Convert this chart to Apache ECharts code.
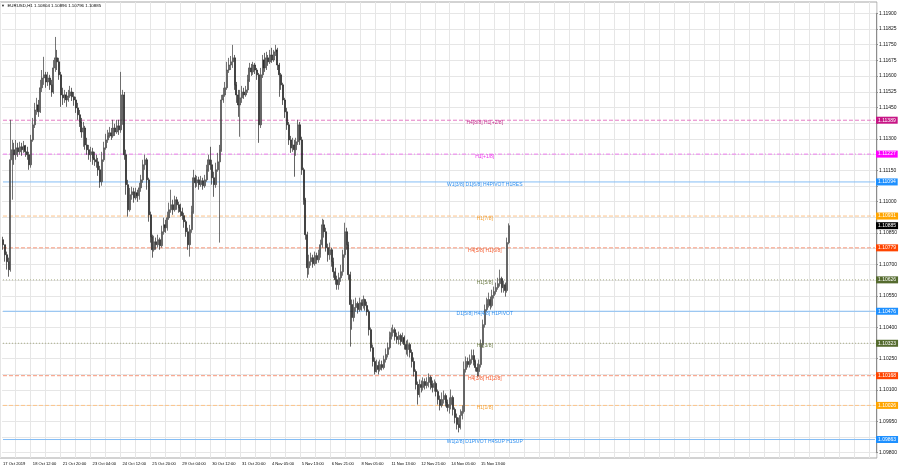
<!DOCTYPE html>
<html><head><meta charset="utf-8">
<script src="https://cdn.jsdelivr.net/npm/echarts@6/dist/echarts.min.js"></script>
<style>html,body{margin:0;padding:0;background:#fff}#c{width:900px;height:470px}</style>
</head><body><div id="c"></div>
<script>
const symbolName = 'EURUSD,H1';
const tickLabels = ['17 Oct 2019','18 Oct 12:00','21 Oct 20:00','23 Oct 04:00','24 Oct 12:00','25 Oct 20:00','29 Oct 04:00','30 Oct 12:00','31 Oct 20:00','4 Nov 05:00','5 Nov 13:00','6 Nov 21:00','8 Nov 05:00','11 Nov 13:00','12 Nov 21:00','14 Nov 05:00','15 Nov 13:00'];
// [open, close, low, high]
const ohlc = [
[1.10818,1.10794,1.10770,1.10832],[1.10794,1.10746,1.10713,1.10794],[1.10746,1.10713,1.10675,1.10761],[1.10713,1.10675,1.10641,1.10732],
[1.10675,1.11200,1.10665,1.11391],[1.11200,1.11248,1.11009,1.11295],[1.11248,1.11224,1.11176,1.11281],[1.11224,1.11257,1.11200,1.11295],
[1.11257,1.11238,1.11214,1.11281],[1.11238,1.11262,1.11224,1.11286],[1.11262,1.11248,1.11219,1.11281],[1.11248,1.11267,1.11233,1.11290],
[1.11267,1.11238,1.11214,1.11271],[1.11238,1.11224,1.11200,1.11262],[1.11224,1.11176,1.11152,1.11238],[1.11176,1.11295,1.11162,1.11319],
[1.11295,1.11367,1.11286,1.11400],[1.11367,1.11438,1.11352,1.11472],[1.11438,1.11462,1.11415,1.11496],[1.11462,1.11429,1.11405,1.11486],
[1.11429,1.11544,1.11424,1.11582],[1.11544,1.11591,1.11524,1.11629],[1.11591,1.11606,1.11558,1.11692],[1.11606,1.11572,1.11544,1.11620],
[1.11572,1.11591,1.11553,1.11620],[1.11591,1.11558,1.11534,1.11606],[1.11558,1.11524,1.11501,1.11582],[1.11524,1.11639,1.11515,1.11677],
[1.11639,1.11687,1.11620,1.11787],[1.11687,1.11668,1.11629,1.11725],[1.11668,1.11606,1.11582,1.11687],[1.11606,1.11510,1.11453,1.11620],
[1.11510,1.11496,1.11462,1.11544],[1.11496,1.11510,1.11472,1.11534],[1.11510,1.11486,1.11453,1.11524],[1.11486,1.11505,1.11477,1.11534],
[1.11505,1.11524,1.11496,1.11553],[1.11524,1.11501,1.11481,1.11544],[1.11501,1.11486,1.11458,1.11524],[1.11486,1.11448,1.11424,1.11501],
[1.11448,1.11415,1.11391,1.11472],[1.11415,1.11381,1.11357,1.11438],[1.11381,1.11333,1.11305,1.11400],[1.11333,1.11352,1.11262,1.11381],
[1.11352,1.11271,1.11248,1.11362],[1.11271,1.11248,1.11224,1.11305],[1.11248,1.11224,1.11200,1.11271],[1.11224,1.11238,1.11190,1.11262],
[1.11238,1.11209,1.11176,1.11257],[1.11209,1.11200,1.11171,1.11238],[1.11200,1.11190,1.11162,1.11224],[1.11190,1.11152,1.11123,1.11209],
[1.11152,1.11095,1.11066,1.11171],[1.11095,1.11200,1.11076,1.11238],[1.11200,1.11257,1.11190,1.11286],[1.11257,1.11295,1.11248,1.11324],
[1.11295,1.11314,1.11281,1.11343],[1.11314,1.11329,1.11305,1.11357],[1.11329,1.11314,1.11295,1.11352],[1.11314,1.11352,1.11305,1.11391],
[1.11352,1.11333,1.11314,1.11372],[1.11333,1.11362,1.11324,1.11391],[1.11362,1.11343,1.11319,1.11391],[1.11343,1.11391,1.11329,1.11620],
[1.11391,1.11510,1.11367,1.11534],[1.11510,1.11224,1.11200,1.11524],[1.11224,1.11081,1.11033,1.11248],[1.11081,1.10961,1.10928,1.11104],
[1.10961,1.11033,1.10952,1.11066],[1.11033,1.11047,1.11009,1.11071],[1.11047,1.11018,1.10995,1.11066],[1.11018,1.11042,1.11009,1.11066],
[1.11042,1.11028,1.10999,1.11057],[1.11028,1.11066,1.11009,1.11090],[1.11066,1.11104,1.11047,1.11128],[1.11104,1.11176,1.11090,1.11200],
[1.11176,1.11200,1.11152,1.11224],[1.11200,1.11104,1.11057,1.11209],[1.11104,1.10937,1.10904,1.11114],[1.10937,1.10832,1.10804,1.10952],
[1.10832,1.10770,1.10732,1.10842],[1.10770,1.10808,1.10761,1.10837],[1.10808,1.10794,1.10770,1.10828],[1.10794,1.10818,1.10780,1.10842],
[1.10818,1.10789,1.10770,1.10828],[1.10789,1.10856,1.10780,1.10885],[1.10856,1.10889,1.10842,1.10923],[1.10889,1.10875,1.10851,1.10913],
[1.10875,1.10923,1.10861,1.10952],[1.10923,1.10961,1.10913,1.10995],[1.10961,1.10985,1.10947,1.11057],[1.10985,1.10961,1.10937,1.11009],
[1.10961,1.11009,1.10952,1.11028],[1.11009,1.10985,1.10961,1.11023],[1.10985,1.10971,1.10947,1.10999],[1.10971,1.10952,1.10928,1.10990],
[1.10952,1.10933,1.10913,1.10971],[1.10933,1.10904,1.10875,1.10947],[1.10904,1.10856,1.10832,1.10913],[1.10856,1.10794,1.10770,1.10875],
[1.10794,1.10866,1.10737,1.10889],[1.10866,1.10952,1.10851,1.10980],[1.10952,1.11114,1.10942,1.11152],[1.11114,1.11090,1.11066,1.11128],
[1.11090,1.11104,1.11071,1.11123],[1.11104,1.11081,1.11057,1.11119],[1.11081,1.11100,1.11071,1.11123],[1.11100,1.11076,1.11057,1.11114],
[1.11076,1.11104,1.11066,1.11128],[1.11104,1.11152,1.11095,1.11176],[1.11152,1.11200,1.11143,1.11224],[1.11200,1.11176,1.11152,1.11262],
[1.11176,1.11114,1.11081,1.11200],[1.11114,1.11081,1.11023,1.11143],[1.11081,1.11152,1.11066,1.11186],[1.11152,1.11190,1.11143,1.11233],
[1.11190,1.11248,1.10804,1.11271],[1.11248,1.11486,1.11238,1.11510],[1.11486,1.11510,1.11472,1.11544],[1.11510,1.11544,1.11501,1.11572],
[1.11544,1.11629,1.11534,1.11668],[1.11629,1.11653,1.11615,1.11687],[1.11653,1.11668,1.11629,1.11696],[1.11668,1.11687,1.11639,1.11749],
[1.11687,1.11558,1.11534,1.11701],[1.11558,1.11510,1.11472,1.11572],[1.11510,1.11462,1.11405,1.11534],[1.11462,1.11496,1.11310,1.11534],
[1.11496,1.11524,1.11472,1.11553],[1.11524,1.11510,1.11491,1.11544],[1.11510,1.11534,1.11501,1.11553],[1.11534,1.11582,1.11520,1.11606],
[1.11582,1.11639,1.11572,1.11663],[1.11639,1.11620,1.11601,1.11658],[1.11620,1.11653,1.11606,1.11668],[1.11653,1.11629,1.11610,1.11663],
[1.11629,1.11606,1.11582,1.11639],[1.11606,1.11367,1.11281,1.11615],[1.11367,1.11606,1.11352,1.11639],[1.11606,1.11677,1.11591,1.11701],
[1.11677,1.11639,1.11620,1.11711],[1.11639,1.11687,1.11629,1.11716],[1.11687,1.11668,1.11649,1.11701],[1.11668,1.11701,1.11658,1.11725],
[1.11701,1.11677,1.11663,1.11735],[1.11677,1.11716,1.11668,1.11725],[1.11716,1.11725,1.11696,1.11749],[1.11725,1.11653,1.11629,1.11735],
[1.11653,1.11606,1.11501,1.11663],[1.11606,1.11558,1.11534,1.11615],[1.11558,1.11486,1.11462,1.11568],[1.11486,1.11429,1.11400,1.11496],
[1.11429,1.11367,1.11343,1.11448],[1.11367,1.11295,1.11271,1.11381],[1.11295,1.11257,1.11233,1.11314],[1.11257,1.11271,1.11238,1.11305],
[1.11271,1.11248,1.11119,1.11295],[1.11248,1.11286,1.11219,1.11305],[1.11286,1.11367,1.11271,1.11391],[1.11367,1.11295,1.11271,1.11381],
[1.11295,1.11152,1.11128,1.11310],[1.11152,1.11009,1.10985,1.11162],[1.11009,1.10842,1.10818,1.11018],[1.10842,1.10684,1.10636,1.10856],
[1.10684,1.10713,1.10651,1.10746],[1.10713,1.10732,1.10694,1.10756],[1.10732,1.10703,1.10684,1.10746],[1.10703,1.10742,1.10694,1.10761],
[1.10742,1.10722,1.10703,1.10756],[1.10722,1.10751,1.10708,1.10770],[1.10751,1.10794,1.10732,1.10818],[1.10794,1.10889,1.10780,1.10918],
[1.10889,1.10856,1.10828,1.10913],[1.10856,1.10780,1.10761,1.10875],[1.10780,1.10746,1.10713,1.10799],[1.10746,1.10770,1.10722,1.10804],
[1.10770,1.10713,1.10689,1.10780],[1.10713,1.10665,1.10636,1.10732],[1.10665,1.10627,1.10603,1.10684],[1.10627,1.10603,1.10579,1.10646],
[1.10603,1.10636,1.10579,1.10660],[1.10636,1.10665,1.10617,1.10698],[1.10665,1.10746,1.10646,1.10770],[1.10746,1.10856,1.10732,1.10899],
[1.10856,1.10794,1.10770,1.10875],[1.10794,1.10651,1.10627,1.10808],[1.10651,1.10508,1.10307,1.10665],[1.10508,1.10446,1.10388,1.10532],
[1.10446,1.10494,1.10427,1.10532],[1.10494,1.10513,1.10474,1.10541],[1.10513,1.10484,1.10465,1.10522],[1.10484,1.10517,1.10474,1.10541],
[1.10517,1.10503,1.10479,1.10532],[1.10503,1.10532,1.10489,1.10551],[1.10532,1.10503,1.10479,1.10536],[1.10503,1.10474,1.10455,1.10522],
[1.10474,1.10388,1.10360,1.10484],[1.10388,1.10302,1.10283,1.10398],[1.10302,1.10236,1.10212,1.10317],[1.10236,1.10188,1.10174,1.10255],
[1.10188,1.10217,1.10183,1.10245],[1.10217,1.10198,1.10174,1.10236],[1.10198,1.10221,1.10188,1.10245],[1.10221,1.10207,1.10193,1.10240],
[1.10207,1.10245,1.10198,1.10264],[1.10245,1.10269,1.10231,1.10298],[1.10269,1.10302,1.10255,1.10326],[1.10302,1.10350,1.10293,1.10379],
[1.10350,1.10374,1.10341,1.10398],[1.10374,1.10388,1.10355,1.10412],[1.10388,1.10355,1.10336,1.10398],[1.10355,1.10341,1.10322,1.10374],
[1.10341,1.10360,1.10317,1.10379],[1.10360,1.10331,1.10312,1.10369],[1.10331,1.10350,1.10322,1.10374],[1.10350,1.10317,1.10293,1.10360],
[1.10317,1.10293,1.10269,1.10336],[1.10293,1.10317,1.10260,1.10341],[1.10317,1.10279,1.10255,1.10326],[1.10279,1.10236,1.10207,1.10293],
[1.10236,1.10188,1.10164,1.10255],[1.10188,1.10126,1.10102,1.10198],[1.10126,1.10078,1.10030,1.10140],[1.10078,1.10126,1.10064,1.10150],
[1.10126,1.10112,1.10088,1.10145],[1.10112,1.10140,1.10097,1.10160],[1.10140,1.10121,1.10102,1.10155],[1.10121,1.10136,1.10107,1.10160],
[1.10136,1.10160,1.10112,1.10179],[1.10160,1.10126,1.10102,1.10169],[1.10126,1.10112,1.10088,1.10145],[1.10112,1.10131,1.10092,1.10150],
[1.10131,1.10092,1.10069,1.10140],[1.10092,1.10054,1.10030,1.10102],[1.10054,1.10026,1.10002,1.10073],[1.10026,1.10054,1.10016,1.10088],
[1.10054,1.10073,1.10035,1.10097],[1.10073,1.10040,1.10021,1.10083],[1.10040,1.10016,1.09997,1.10054],[1.10016,1.10030,1.09987,1.10064],
[1.10030,1.10064,1.10007,1.10102],[1.10064,1.10007,1.09978,1.10073],[1.10007,1.09968,1.09940,1.10016],[1.09968,1.09935,1.09911,1.09987],
[1.09935,1.09921,1.09897,1.09968],[1.09921,1.09978,1.09911,1.10007],[1.09978,1.09997,1.09959,1.10026],[1.09997,1.10198,1.09987,1.10236],
[1.10198,1.10236,1.10183,1.10260],[1.10236,1.10221,1.10207,1.10255],[1.10221,1.10245,1.10207,1.10269],[1.10245,1.10264,1.10226,1.10293],
[1.10264,1.10236,1.10217,1.10293],[1.10236,1.10207,1.10188,1.10245],[1.10207,1.10188,1.10164,1.10226],[1.10188,1.10221,1.10164,1.10245],
[1.10221,1.10317,1.10207,1.10341],[1.10317,1.10412,1.10302,1.10436],[1.10412,1.10484,1.10398,1.10508],[1.10484,1.10508,1.10474,1.10541],
[1.10508,1.10532,1.10494,1.10565],[1.10532,1.10503,1.10484,1.10546],[1.10503,1.10551,1.10494,1.10579],[1.10551,1.10570,1.10537,1.10594],
[1.10570,1.10589,1.10556,1.10613],[1.10589,1.10608,1.10579,1.10636],[1.10608,1.10632,1.10594,1.10675],[1.10632,1.10589,1.10565,1.10641],
[1.10589,1.10603,1.10565,1.10622],[1.10603,1.10575,1.10546,1.10613],[1.10575,1.10804,1.10565,1.10828],[1.10804,1.10885,1.10796,1.10896]
];
const levelPrices = [1.11389, 1.11227, 1.11094, 1.10931, 1.10779, 1.10626, 1.10476, 1.10323, 1.10168, 1.10026, 1.09863];
const levelTexts = ['H4[8/8] H1[+2/8]','H1[+1/8]','W1[3/8] D1[6/8] H4PIVOT H1RES','H1[7/8]','H4[5/8] H1[6/8]','H1[5/8]','D1[5/8] H4[4/8] H1PIVOT','H1[3/8]','H4[3/8] H1[2/8]','H1[1/8]','W1[2/8] D1PIVOT H4SUP H1SUP'];

// styles
const levelColors = ['#C71585','#FF00FF','#1E90FF','#FFA500','#FF4500','#556B2F','#1E90FF','#556B2F','#FF4500','#FFA500','#1E90FF'];
const levelTextColors = ['#c52a8c','#ee30ee','#2f8fee','#f5a032','#f45a2e','#6b7a45','#2f8fee','#6b7a45','#f45a2e','#f5a032','#2f8fee'];
const levelLineColors = ['#e57cc4','#ef7cef','#84bdf5','#fcc48a','#f7977a','#a9ad86','#84bdf5','#a9ad86','#f7977a','#fcc48a','#84bdf5'];
const levelLineTypes = [[4,2],[4,2,1,2],'solid',[4,2],[4,2],[1,2],'solid',[1,2],[4,2],[4,2],'solid'];
const FONT = '"Liberation Sans", Arial, sans-serif';
const totalSlots = 468;       // bar slots across the chart, incl. right shift area
const labelEvery = 16;
const gridEvery = 8;
const textSlot = 258;
const tagClearance = 0.0002;  // tick labels hidden under price tags

const categories = Array.from({length: totalSlots}, (_, i) => String(i));
const last = ohlc[ohlc.length - 1];
const fmt = v => v.toFixed(5);
const tagPrices = levelPrices.concat([last[1]]);

function priceTag(bg) {
  return {show: true, distance: 1, backgroundColor: bg, color: '#fff', fontSize: 5, fontFamily: FONT,
          padding: [1, 2, 0, 2], lineHeight: 6, align: 'left', verticalAlign: 'middle'};
}
const levelSeries = levelPrices.map((p, i) => ({
  type: 'line', xAxisIndex: 0, yAxisIndex: 0, silent: true, z: 1, clip: false,
  data: [[0, p], [totalSlots - 1, p]],
  symbol: 'none',
  lineStyle: {color: levelLineColors[i], type: levelLineTypes[i], width: 1},
  endLabel: Object.assign(priceTag(levelColors[i]), {formatter: () => fmt(p)}),
  markPoint: {silent: true, symbol: 'circle', symbolSize: 0, animation: false,
    itemStyle: {color: 'transparent'},
    label: {show: true, position: 'bottom', distance: 0, fontSize: 5, fontFamily: FONT, color: levelTextColors[i], formatter: levelTexts[i]},
    data: [{coord: [textSlot, p]}]}
}));
const bidSeries = {
  type: 'line', xAxisIndex: 0, yAxisIndex: 0, silent: true, z: 1, clip: false,
  data: [[0, last[1]], [totalSlots - 1, last[1]]],
  symbol: 'none', lineStyle: {opacity: 0},
  endLabel: Object.assign(priceTag('#000'), {formatter: () => fmt(last[1])})
};

const chart = echarts.init(document.getElementById('c'), null, {renderer: 'canvas'});
chart.setOption({
  animation: false,
  backgroundColor: '#fff',
  title: {
    text: '{t|▼}  ' + symbolName + ' ' + [last[0], last[3], last[2], last[1]].map(fmt).join(' '),
    left: 1, top: 4, padding: 0,
    textStyle: {fontSize: 4.4, fontWeight: 'normal', color: '#000', fontFamily: FONT,
      rich: {t: {fontSize: 4, color: '#222'}}}
  },
  grid: [
    {left: 0, right: 23, top: 13.3, bottom: 17.3},
    {left: 0, right: 23, top: 2, bottom: 12, show: true, borderColor: '#a6a6a6', borderWidth: 1}
  ],
  xAxis: [
    {type: 'category', gridIndex: 0, data: categories, boundaryGap: true,
     axisLine: {show: false}, axisTick: {show: false}, splitLine: {show: false},
     axisLabel: {
       interval: idx => idx % labelEvery === 0 && idx / labelEvery < tickLabels.length,
       formatter: (v, idx) => tickLabels[Math.round(idx / labelEvery)] || '',
       fontSize: 4.1, color: '#000', fontFamily: FONT, align: 'left', margin: 9
     }},
    {type: 'category', gridIndex: 1, data: categories, boundaryGap: true,
     axisLine: {show: false}, axisTick: {show: false}, axisLabel: {show: false},
     splitLine: {show: true, interval: idx => idx % gridEvery === 0, lineStyle: {color: '#e6e6e6', width: 1}}}
  ],
  yAxis: [
    {type: 'value', gridIndex: 0, position: 'right', min: 1.098, max: 1.119, interval: 0.00075,
     axisLine: {show: true, lineStyle: {color: '#8c8c8c'}},
     axisTick: {show: true, length: 2, lineStyle: {color: '#8c8c8c'}},
     axisLabel: {fontSize: 5, color: '#111', fontFamily: FONT, margin: 3,
       formatter: v => tagPrices.some(p => Math.abs(p - v) < tagClearance) ? '' : fmt(v)},
     splitLine: {show: true, lineStyle: {color: '#e6e6e6', width: 1}}},
    {type: 'value', gridIndex: 1, min: 0, max: 1, show: false}
  ],
  series: levelSeries.concat([bidSeries, {
    type: 'candlestick',
    xAxisIndex: 0, yAxisIndex: 0, z: 3,
    data: ohlc,
    barWidth: 1.5,
    clip: false,
    itemStyle: {color: '#a8a8a8', color0: '#2a2a2a', borderColor: '#3a3a3a', borderColor0: '#222', borderWidth: 0.7}
  }])
});
</script></body></html>
